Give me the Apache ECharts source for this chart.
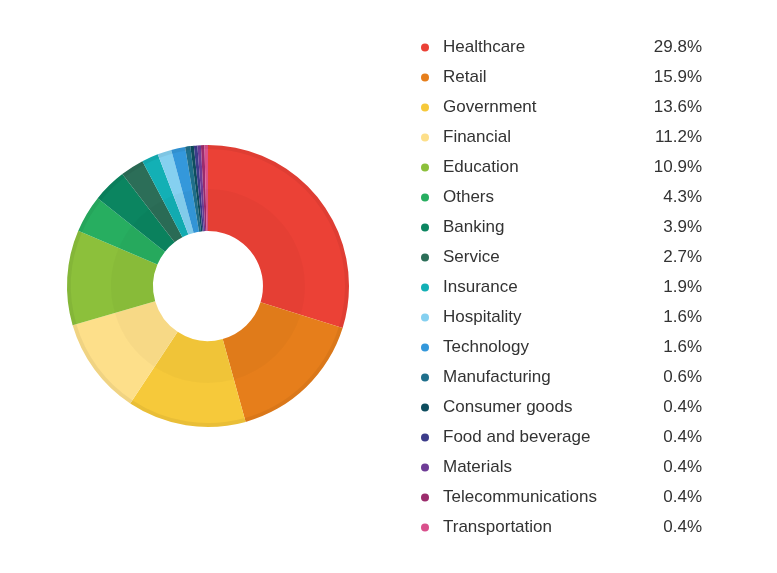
<!DOCTYPE html>
<html>
<head>
<meta charset="utf-8">
<script src="https://cdn.jsdelivr.net/npm/echarts@6/dist/echarts.min.js"></script>
<style>
  html, body { margin: 0; padding: 0; background: #fff; }
  #main { width: 777px; height: 573px; }
</style>
</head>
<body>
<div id="main"></div>
<script>
// sectors and their share (percent)
var sectors = ['Healthcare', 'Retail', 'Government', 'Financial', 'Education', 'Others', 'Banking',
  'Service', 'Insurance', 'Hospitality', 'Technology', 'Manufacturing', 'Consumer goods',
  'Food and beverage', 'Materials', 'Telecommunications', 'Transportation'];
var shares = [29.8, 15.9, 13.6, 11.2, 10.9, 4.3, 3.9, 2.7, 1.9, 1.6, 1.6, 0.6, 0.4, 0.4, 0.4, 0.4, 0.4];
var colors = ['#eb4136', '#e67e1b', '#f6c93a', '#fddf8a', '#8cc03b', '#27ae60', '#0b8560',
  '#2c6e58', '#13b0b5', '#85d0f0', '#3498db', '#1f6f8b', '#0e4d5e', '#3c3c8a', '#6e3c96',
  '#9b2c6c', '#d9508c'];

var center = [208, 286];

var mainData = sectors.map(function (name, i) {
  return { name: name, value: shares[i], itemStyle: { color: colors[i] } };
});
// translucent overlays for the inner band and outer rim
function overlay(alpha) {
  return sectors.map(function (name, i) {
    return { name: name + ' ', value: shares[i], itemStyle: { color: 'rgba(0,0,0,' + alpha + ')' } };
  });
}

var chart = echarts.init(document.getElementById('main'));
chart.setOption({
  animation: false,
  color: colors,
  legend: {
    orient: 'vertical',
    left: 416,
    top: 34,
    icon: 'circle',
    itemWidth: 26,
    itemHeight: 8,
    itemGap: 13,
    selectedMode: false,
    data: sectors,
    formatter: function (name) {
      var i = sectors.indexOf(name);
      return '{n|' + name + '}{v|' + shares[i].toFixed(1) + '%}';
    },
    textStyle: {
      rich: {
        n: { width: 195, fontSize: 17, lineHeight: 20, color: '#333', fontFamily: 'Liberation Sans' },
        v: { width: 64, align: 'right', fontSize: 17, lineHeight: 20, color: '#333', fontFamily: 'Liberation Sans' }
      }
    }
  },
  series: [
    {
      type: 'pie',
      center: center,
      radius: [55, 141],
      startAngle: 90,
      minAngle: 0,
      label: { show: false },
      labelLine: { show: false },
      emphasis: { disabled: true },
      itemStyle: { borderWidth: 0 },
      data: mainData
    },
    {
      type: 'pie',
      center: center,
      radius: [55, 97],
      startAngle: 90,
      silent: true,
      label: { show: false },
      labelLine: { show: false },
      emphasis: { disabled: true },
      data: overlay(0.025)
    },
    {
      type: 'pie',
      center: center,
      radius: [137, 141],
      startAngle: 90,
      silent: true,
      label: { show: false },
      labelLine: { show: false },
      emphasis: { disabled: true },
      data: overlay(0.05)
    }
  ]
});
</script>
</body>
</html>
